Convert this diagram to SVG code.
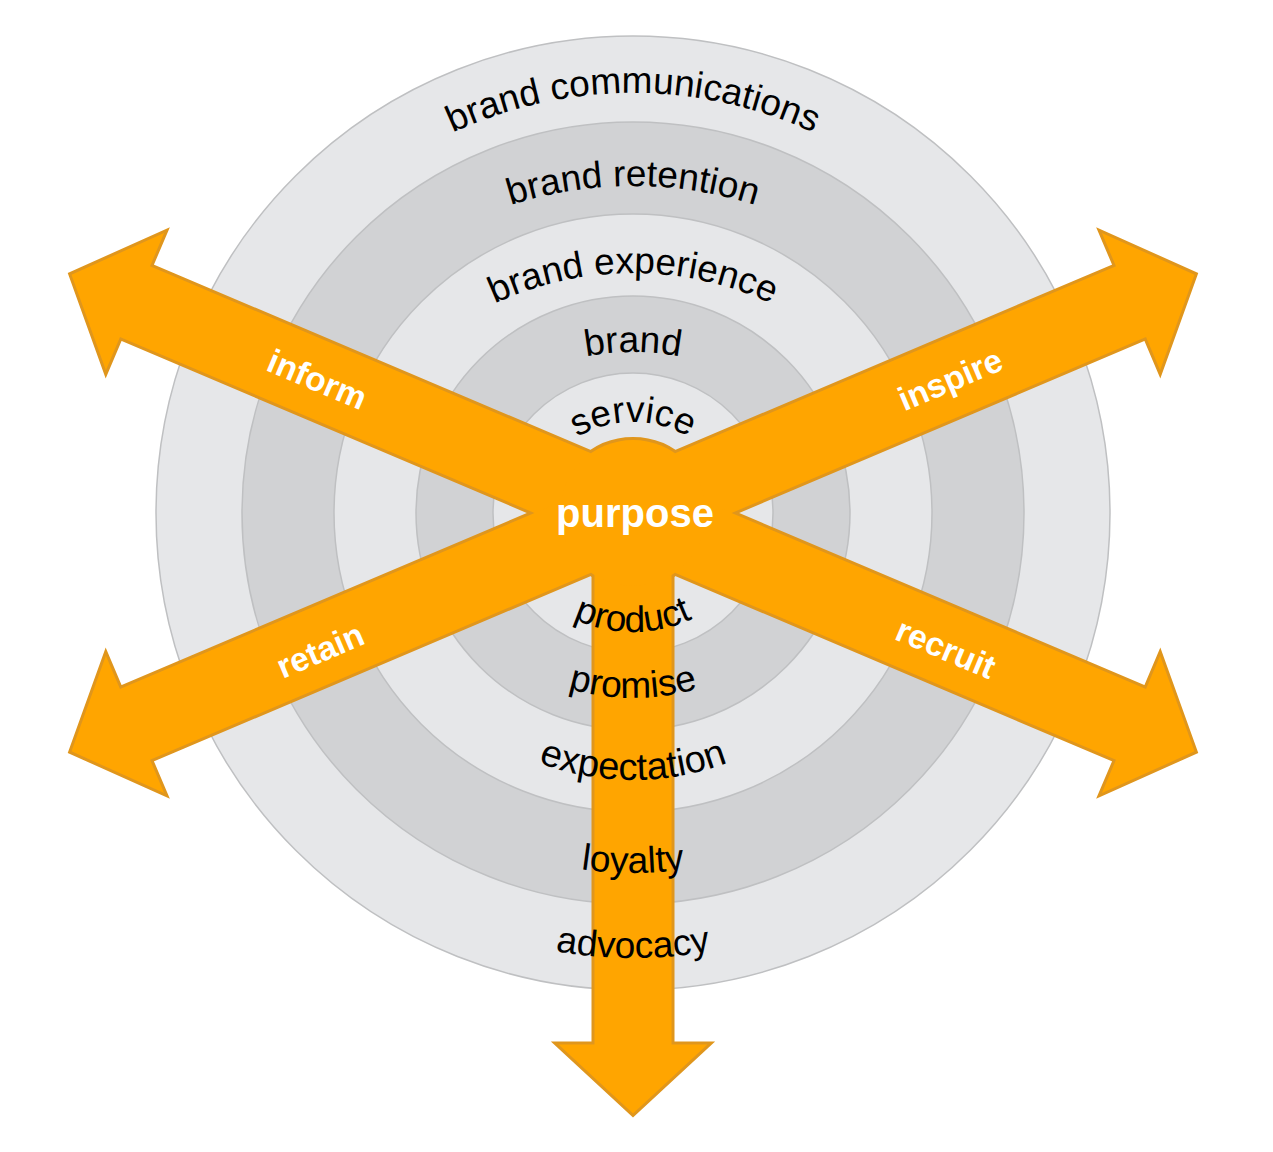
<svg xmlns="http://www.w3.org/2000/svg" xmlns:xlink="http://www.w3.org/1999/xlink" width="1273" height="1152" viewBox="0 0 1273 1152">
<style>
.ring{stroke:#bfc0c2;stroke-width:1.5}
.light{fill:#e6e7e9}
.dark{fill:#d1d2d4}
.lbl{font-family:"Liberation Sans",Arial,Helvetica,sans-serif;font-size:37px;fill:#000}
.alb{font-family:"Liberation Sans",Arial,Helvetica,sans-serif;font-size:33.5px;font-weight:bold;fill:#fff}
.ctr{font-family:"Liberation Sans",Arial,Helvetica,sans-serif;font-size:40px;font-weight:bold;fill:#fff}
.under{fill:#e0961c;stroke:#e0961c;stroke-width:6;stroke-linejoin:miter;stroke-miterlimit:10}
.over{fill:#ffa500;stroke:none}
</style>
<defs>
<polygon id="diag" points="0,-38.5 541,-38.5 541,-74.5 610,0 541,74.5 541,38.5 0,38.5"/>
<polygon id="vert" points="0,-38.5 531.5,-38.5 531.5,-74.5 600.5,0 531.5,74.5 531.5,38.5 0,38.5"/>
<circle id="hub" cx="0" cy="0" r="73"/>
<path id="p-comm" d="M203,523 A430,430 0 0 1 1063,523"/>
<path id="p-ret" d="M233,586 A400,400 0 0 1 1033,586"/>
<path id="p-exp" d="M303,603 A330,330 0 0 1 963,603"/>
<path id="p-brand" d="M383,602 A250,250 0 0 1 883,602"/>
<path id="p-serv" d="M523,532 A110,110 0 0 1 743,532"/>
<path id="p-prod" d="M493,492 A140,140 0 0 0 773,492"/>
<path id="p-prom" d="M403,468 A230,230 0 0 0 863,468"/>
<path id="p-expt" d="M366,513 A267,267 0 0 0 900,513"/>
<path id="p-loy" d="M273,513 A360,360 0 0 0 993,513"/>
<path id="p-adv" d="M188,513 A445,445 0 0 0 1078,513"/>
</defs>
<rect width="1273" height="1152" fill="#fff"/>
<g id="rings">
<circle class="ring light" cx="633" cy="513" r="477"/>
<circle class="ring dark" cx="633" cy="513" r="391"/>
<circle class="ring light" cx="633" cy="513" r="299"/>
<circle class="ring dark" cx="633" cy="513" r="217"/>
<circle class="ring light" cx="633" cy="513" r="140"/>
</g>
<g id="connectors" transform="translate(633,513)">
<g class="under">
<use xlink:href="#diag" transform="rotate(203)"/>
<use xlink:href="#diag" transform="rotate(-23)"/>
<use xlink:href="#diag" transform="rotate(157)"/>
<use xlink:href="#diag" transform="rotate(23)"/>
<use xlink:href="#vert" transform="rotate(90)"/>
<use xlink:href="#hub"/>
</g>
<g class="over">
<use xlink:href="#diag" transform="rotate(203)"/>
<use xlink:href="#diag" transform="rotate(-23)"/>
<use xlink:href="#diag" transform="rotate(157)"/>
<use xlink:href="#diag" transform="rotate(23)"/>
<use xlink:href="#vert" transform="rotate(90)"/>
<use xlink:href="#hub"/>
</g>
</g>
<g id="arrow-labels">
<text class="alb" text-anchor="middle" dy="0.36em" transform="translate(317.5,379) rotate(23)">inform</text>
<text class="alb" text-anchor="middle" dy="0.36em" transform="translate(950,379) rotate(-23)">inspire</text>
<text class="alb" text-anchor="middle" dy="0.36em" transform="translate(320,650) rotate(-23)">retain</text>
<text class="alb" text-anchor="middle" dy="0.36em" transform="translate(946,648) rotate(23)">recruit</text>
</g>
<g id="node-purpose"><text class="ctr" x="635" y="527" text-anchor="middle">purpose</text></g>
<g id="node-brand-communications"><text class="lbl"><textPath xlink:href="#p-comm" startOffset="50%" text-anchor="middle">brand communications</textPath></text></g>
<g id="node-brand-retention"><text class="lbl"><textPath xlink:href="#p-ret" startOffset="50%" text-anchor="middle">brand retention</textPath></text></g>
<g id="node-brand-experience"><text class="lbl"><textPath xlink:href="#p-exp" startOffset="50%" text-anchor="middle">brand experience</textPath></text></g>
<g id="node-brand"><text class="lbl"><textPath xlink:href="#p-brand" startOffset="50%" text-anchor="middle">brand</textPath></text></g>
<g id="node-service"><text class="lbl"><textPath xlink:href="#p-serv" startOffset="50%" text-anchor="middle">service</textPath></text></g>
<g id="node-product"><text class="lbl"><textPath xlink:href="#p-prod" startOffset="50%" text-anchor="middle">product</textPath></text></g>
<g id="node-promise"><text class="lbl"><textPath xlink:href="#p-prom" startOffset="50%" text-anchor="middle">promise</textPath></text></g>
<g id="node-expectation"><text class="lbl" style="font-size:38px"><textPath xlink:href="#p-expt" startOffset="50%" text-anchor="middle">expectation</textPath></text></g>
<g id="node-loyalty"><text class="lbl"><textPath xlink:href="#p-loy" startOffset="50%" text-anchor="middle">loyalty</textPath></text></g>
<g id="node-advocacy"><text class="lbl"><textPath xlink:href="#p-adv" startOffset="50%" text-anchor="middle">advocacy</textPath></text></g>
</svg>
